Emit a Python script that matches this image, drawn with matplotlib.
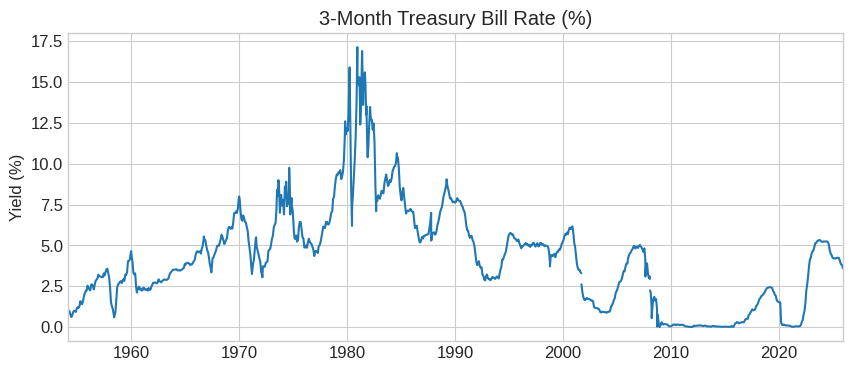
import numpy as np
import pandas as pd
import matplotlib
matplotlib.use("Agg")
import matplotlib.pyplot as plt
import matplotlib.dates as mdates

plt.style.use("seaborn-v0_8-whitegrid")
plt.rcParams["font.size"] = 12
plt.rcParams["font.family"] = ["Liberation Sans", "DejaVu Sans"]

# monthly readings (mid-month), Feb 1954 .. Nov 2025
rates_1950s = [
    1.10, 1.03, 0.96, 0.76, 0.62, 0.72, 0.92, 1.01, 0.98, 0.93, 1.14,
    1.22, 1.17, 1.28, 1.59, 1.45, 1.41, 1.60, 1.90, 2.07, 2.23, 2.24, 2.54,
    2.41, 2.32, 2.25, 2.60, 2.61, 2.49, 2.31, 2.60, 2.84, 2.90, 2.99, 3.21,
    3.11, 3.10, 3.08, 3.06, 3.06, 3.29, 3.16, 3.37, 3.53, 3.58, 3.29, 3.04,
    2.44, 1.53, 1.30, 1.13, 0.80, 0.70, 0.91, 1.69, 2.44, 2.63, 2.67, 2.77,
    2.82, 2.70, 2.80, 2.95, 2.84, 3.21, 3.20, 3.38, 4.04, 4.05, 4.15, 4.49,
]
rates_1960s = [
    4.35, 3.96, 3.31, 3.23, 3.29, 2.46, 2.30, 2.30, 2.48, 2.30, 2.37, 2.25,
    2.24, 2.42, 2.39, 2.29, 2.29, 2.33, 2.24, 2.39, 2.28, 2.30, 2.48, 2.60,
    2.72, 2.73, 2.72, 2.73, 2.68, 2.73, 2.92, 2.82, 2.78, 2.74, 2.83, 2.87,
    2.91, 2.92, 2.89, 2.90, 2.92, 2.99, 3.18, 3.32, 3.38, 3.45, 3.52, 3.52,
    3.52, 3.53, 3.54, 3.47, 3.48, 3.48, 3.46, 3.50, 3.53, 3.58, 3.62, 3.86,
    3.83, 3.93, 3.94, 3.93, 3.89, 3.80, 3.84, 3.84, 3.92, 4.03, 4.09, 4.38,
    4.59, 4.65, 4.58, 4.62, 4.64, 4.50, 4.80, 4.96, 5.37, 5.35, 5.32, 4.96,
    4.72, 4.56, 4.26, 3.84, 3.60, 3.54, 4.21, 4.27, 4.42, 4.56, 4.73, 4.97,
    5.00, 4.98, 5.17, 5.38, 5.66, 5.52, 5.31, 5.09, 5.19, 5.35, 5.45, 5.94,
    6.13, 6.12, 6.02, 6.11, 6.03, 6.43, 6.98, 6.97, 7.08, 6.99, 7.24, 7.82,
]
rates_1970s = [
    7.87, 7.13, 6.63, 6.51, 6.84, 6.68, 6.45, 6.41, 6.12, 5.91, 5.28, 4.87,
    4.44, 3.70, 3.38, 3.86, 4.14, 4.75, 5.40, 4.94, 4.69, 4.46, 4.22, 4.01,
    3.38, 3.20, 3.73, 3.71, 3.69, 3.91, 3.98, 4.02, 4.66, 4.74, 4.78, 5.07,
    5.41, 5.60, 6.09, 6.26, 6.36, 7.19, 8.01, 8.67, 8.29, 7.22, 7.83, 7.45,
    7.77, 7.12, 7.96, 8.33, 8.23, 7.90, 7.55, 8.96, 8.06, 7.46, 7.47, 7.15,
    6.26, 5.50, 5.49, 5.61, 5.23, 5.34, 6.13, 6.44, 6.42, 5.96, 5.48, 5.44,
    4.87, 4.88, 5.00, 4.86, 5.20, 5.41, 5.23, 5.14, 5.08, 4.92, 4.75, 4.35,
    4.62, 4.67, 4.60, 4.54, 4.96, 5.02, 5.19, 5.49, 5.81, 6.16, 6.10, 6.07,
    6.44, 6.45, 6.29, 6.29, 6.41, 6.73, 7.01, 7.08, 7.85, 7.99, 8.64, 9.08,
    9.35, 9.32, 9.48, 9.46, 9.61, 9.06, 9.24, 9.52, 10.26, 11.70, 11.79, 12.04,
]
rates_1980s = [
    12.00, 12.86, 15.20, 13.20, 8.58, 7.07, 8.06, 9.13, 10.27, 11.62, 13.73, 15.49,
    15.02, 14.79, 13.36, 13.69, 16.30, 14.73, 14.95, 15.51, 14.70, 13.54, 10.86, 10.85,
    12.28, 13.48, 12.68, 12.70, 12.09, 12.47, 11.35, 8.68, 7.92, 7.71, 8.07, 7.94,
    7.86, 8.11, 8.35, 8.21, 8.19, 8.79, 9.08, 9.34, 9.00, 8.64, 8.76, 9.00,
    8.90, 9.09, 9.52, 9.69, 9.83, 9.87, 10.12, 10.47, 10.37, 9.74, 8.61, 8.06,
    7.76, 8.27, 8.52, 7.95, 7.48, 6.95, 7.08, 7.14, 7.10, 7.16, 7.24, 7.10,
    7.07, 7.06, 6.56, 6.06, 6.15, 6.21, 5.83, 5.53, 5.21, 5.18, 5.35, 5.53,
    5.43, 5.59, 5.59, 5.64, 5.66, 5.67, 5.69, 6.04, 6.40, 6.13, 5.69, 5.77,
    5.81, 5.66, 5.70, 5.91, 6.26, 6.46, 6.73, 7.06, 7.24, 7.35, 7.76, 8.07,
    8.27, 8.53, 8.82, 8.65, 8.43, 8.15, 7.88, 7.90, 7.75, 7.64, 7.69, 7.63,
]
rates_1990s = [
    7.64, 7.74, 7.90, 7.77, 7.74, 7.73, 7.62, 7.45, 7.36, 7.17, 7.06, 6.74,
    6.22, 5.94, 5.91, 5.65, 5.46, 5.57, 5.58, 5.33, 5.22, 4.99, 4.56, 4.07,
    3.80, 3.84, 4.04, 3.75, 3.63, 3.66, 3.21, 3.13, 2.91, 2.86, 3.13, 3.22,
    3.00, 2.93, 2.95, 2.87, 2.96, 3.07, 3.04, 3.02, 2.95, 3.02, 3.10, 3.06,
    2.98, 3.25, 3.50, 3.68, 4.14, 4.14, 4.33, 4.48, 4.62, 4.95, 5.29, 5.60,
    5.71, 5.77, 5.73, 5.65, 5.67, 5.47, 5.42, 5.40, 5.28, 5.28, 5.36, 5.14,
    5.00, 4.83, 4.96, 4.95, 5.02, 5.09, 5.15, 5.05, 5.09, 4.99, 5.03, 4.91,
    5.03, 5.01, 5.14, 5.16, 5.05, 4.93, 5.05, 5.14, 4.95, 4.97, 5.14, 5.16,
    5.04, 5.09, 5.03, 4.95, 5.00, 4.98, 4.96, 4.90, 4.61, 3.96, 4.41, 4.39,
    4.34, 4.45, 4.48, 4.28, 4.51, 4.59, 4.60, 4.76, 4.73, 4.88, 5.07, 5.20,
]
rates_2000s = [
    5.32, 5.55, 5.69, 5.66, 5.79, 5.69, 5.96, 6.09, 6.00, 6.11, 6.17, 5.77,
    5.15, 4.88, 4.42, 3.87, 3.62, 3.49, 3.51, 3.36, np.nan, 2.16, 1.87, 1.69,
    1.65, 1.73, 1.79, 1.72, 1.73, 1.70, 1.68, 1.62, 1.63, 1.58, 1.23, 1.19,
    1.17, 1.17, 1.13, 1.13, 1.07, 0.92, 0.90, 0.95, 0.94, 0.92, 0.93, 0.90,
    0.88, 0.93, 0.94, 0.94, 1.02, 1.27, 1.33, 1.48, 1.65, 1.76, 2.07, 2.19,
    2.33, 2.54, 2.74, 2.78, 2.84, 2.97, 3.22, 3.44, 3.42, 3.71, 3.88, 3.89,
    4.24, 4.43, 4.51, 4.60, 4.72, 4.79, 4.95, 4.96, 4.81, 4.92, 4.94, 4.85,
    4.98, 5.03, 4.94, 4.87, 4.73, 4.61, 4.82, 4.20, 3.89, 3.90, 3.27, 3.00,
    3.10, 2.12, 1.26, 1.29, 1.73, 1.86, 1.63, 1.72, 1.13, 0.67, 0.19, 0.03,
    0.13, 0.30, 0.21, 0.16, 0.18, 0.18, 0.18, 0.17, 0.12, 0.07, 0.05, 0.05,
]
rates_2010s = [
    0.06, 0.11, 0.15, 0.16, 0.16, 0.12, 0.16, 0.16, 0.15, 0.13, 0.14, 0.14,
    0.15, 0.13, 0.10, 0.06, 0.04, 0.04, 0.04, 0.02, 0.01, 0.02, 0.01, 0.01,
    0.03, 0.09, 0.08, 0.08, 0.09, 0.09, 0.10, 0.10, 0.11, 0.10, 0.09, 0.07,
    0.07, 0.10, 0.09, 0.06, 0.04, 0.05, 0.04, 0.04, 0.02, 0.05, 0.07, 0.07,
    0.04, 0.05, 0.05, 0.03, 0.03, 0.04, 0.03, 0.03, 0.02, 0.02, 0.02, 0.03,
    0.03, 0.02, 0.03, 0.02, 0.02, 0.02, 0.03, 0.07, 0.02, 0.02, 0.12, 0.23,
    0.26, 0.31, 0.29, 0.23, 0.27, 0.27, 0.30, 0.30, 0.29, 0.33, 0.45, 0.51,
    0.51, 0.52, 0.74, 0.79, 0.90, 0.99, 1.09, 1.03, 1.05, 1.09, 1.25, 1.34,
    1.43, 1.59, 1.73, 1.79, 1.90, 1.94, 1.99, 2.07, 2.17, 2.29, 2.37, 2.41,
    2.42, 2.44, 2.45, 2.43, 2.40, 2.22, 2.15, 1.99, 1.93, 1.68, 1.57, 1.55,
]
rates_2020s = [
    1.52, 1.52, 0.29, 0.14, 0.13, 0.16, 0.13, 0.10, 0.11, 0.10, 0.09, 0.09,
    0.08, 0.04, 0.03, 0.02, 0.02, 0.04, 0.05, 0.05, 0.04, 0.05, 0.05, 0.06,
    0.15, 0.33, 0.44, 0.76, 0.98, 1.49, 2.23, 2.63, 3.13, 3.72, 4.15, 4.25,
    4.54, 4.65, 4.69, 4.92, 5.14, 5.16, 5.25, 5.30, 5.32, 5.34, 5.27, 5.24,
    5.22, 5.24, 5.24, 5.24, 5.25, 5.24, 5.20, 5.05, 4.72, 4.51, 4.42, 4.27,
    4.21, 4.22, 4.20, 4.21, 4.25, 4.23, 4.25, 4.12, 3.92, 3.82, 3.78,
]
decade_starts = ["1954-02", "1960-01", "1970-01", "1980-01",
                 "1990-01", "2000-01", "2010-01", "2020-01"]

# single-day extremes and breaks (nan) seen on the chart
daily_dates = [
    "1958-06-05", "1959-12-28", "1960-07-12", "1966-09-22", "1967-06-05",
    "1969-12-29", "1971-03-10", "1971-07-28", "1972-02-25",
    "1973-07-05", "1973-08-20", "1973-09-05", "1973-10-10", "1973-11-20",
    "1974-01-25", "1974-02-25", "1974-03-28", "1974-05-10", "1974-06-10",
    "1974-07-10", "1974-08-20", "1974-09-10", "1974-09-25", "1974-11-10",
    "1975-01-20", "1975-03-05",
    "1979-10-25", "1980-01-02", "1980-03-25", "1980-04-25", "1980-06-15",
    "1980-06-25", "1980-12-12", "1980-12-30", "1981-02-20", "1981-03-20",
    "1981-05-22", "1981-06-25", "1981-08-25", "1981-10-05", "1981-11-25",
    "1982-09-10", "1984-08-10", "1987-10-14", "1987-10-20", "1989-03-20",
    "1998-10-15", "2001-09-10", "2001-09-17", "2007-08-20",
    "2008-01-18", "2008-01-21", "2008-01-23", "2008-03-19", "2008-09-17",
    "2008-09-25", "2008-12-10", "2025-12-01",
]
daily_rates = [
    0.60, 4.65, 2.12, 5.55, 3.35,
    8.00, 3.25, 5.50, 3.05,
    8.40, 9.00, 8.80, 7.00, 8.10,
    7.80, 6.90, 8.60, 8.90, 7.40,
    8.00, 9.75, 8.60, 6.90, 7.90,
    6.00, 5.40,
    12.60, 12.20, 15.90, 11.50, 6.20,
    7.60, 17.14, 15.00, 15.30, 12.40,
    16.90, 13.60, 15.60, 13.00, 10.40,
    7.10, 10.65, 7.00, 5.30, 9.05,
    3.72, 3.30, 2.62, 3.10,
    2.95, np.nan, 2.25, 0.55, 0.03,
    0.80, 0.00, 3.60,
]

monthly = []
for start, vals in zip(decade_starts, [rates_1950s, rates_1960s, rates_1970s, rates_1980s,
                                       rates_1990s, rates_2000s, rates_2010s, rates_2020s]):
    idx = pd.date_range(start, periods=len(vals), freq="MS") + pd.Timedelta(days=14)
    monthly.append(pd.Series(vals, index=idx))
daily = pd.Series(daily_rates, index=pd.to_datetime(daily_dates))
rate = pd.concat(monthly + [daily]).sort_index()

fig, ax = plt.subplots(figsize=(10, 4))
ax.plot(rate.index, rate.values, color="#1f77b4", linewidth=1.5)
ax.set_xlim(rate.index[0], rate.index[-1])
ax.xaxis.set_major_locator(mdates.YearLocator(10))
ax.xaxis.set_major_formatter(mdates.DateFormatter("%Y"))
ax.set_title("3-Month Treasury Bill Rate (%)")
ax.set_ylabel("Yield (%)")

fig.savefig("out.png", dpi=100, bbox_inches="tight")
